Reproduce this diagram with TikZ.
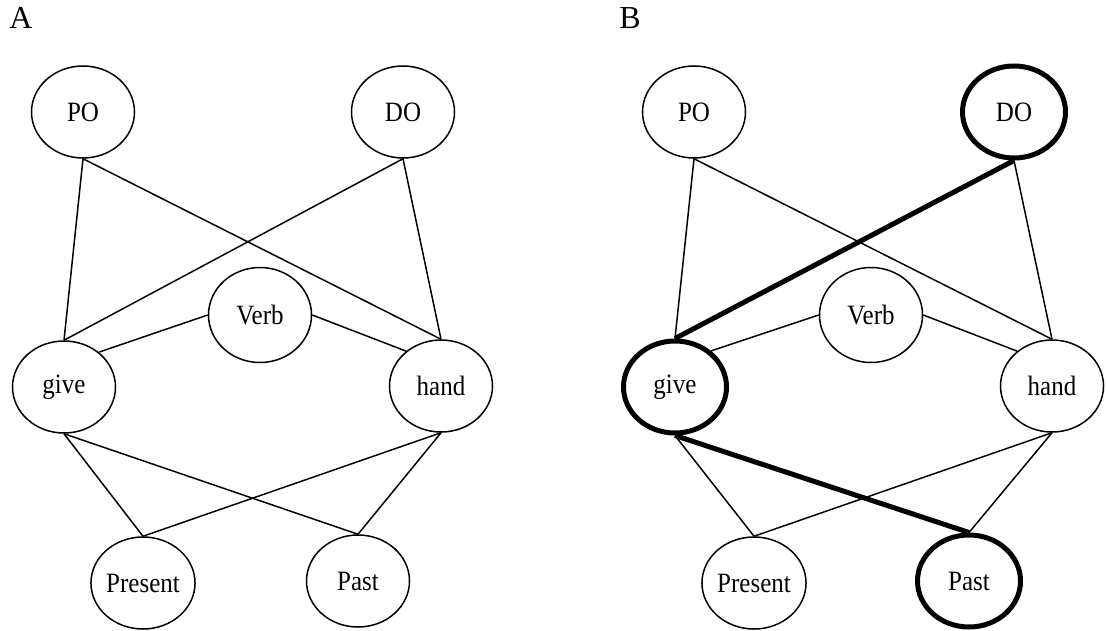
\documentclass[tikz,border=0pt]{standalone}
\usepackage{fontspec}
\setmainfont{Liberation Serif}
\usetikzlibrary{shapes.geometric}
\newcommand{\tx}[1]{\scalebox{1}[1.12]{#1}}
\begin{document}
\begin{tikzpicture}[x=1pt,y=-1pt,
  unit/.style={ellipse,draw,line width=1.5pt,inner sep=0pt,minimum width=103pt,minimum height=92pt,font=\fontsize{25}{30}\selectfont},
  tallunit/.style={unit,minimum height=95pt},
  hot/.style={line width=5pt},
  link/.style={line width=1.5pt},
  hotlink/.style={line width=5pt},
  panel/.style={inner sep=0pt,font=\fontsize{32}{36}\selectfont}]
\useasboundingbox (0,0) rectangle (1107,631);
% Panel A
\node[panel] (labA) at (21,18) {A};
\node[unit] (poA) at (83,112) {\tx{PO}};
\node[unit] (doA) at (403,112) {\tx{DO}};
\node[tallunit] (verbA) at (260,315) {\tx{Verb}};
\node[unit] (giveA) at (64,387) {\tx{give}};
\node[unit] (handA) at (441,386) {\tx{hand}};
\node[unit] (presA) at (143,583) {\tx{Present}};
\node[unit] (pastA) at (358,581) {\tx{Past}};
\draw[link] (poA.south) -- (giveA.north);
\draw[link] (poA.south) -- (handA.north);
\draw[link] (doA.south) -- (giveA.north);
\draw[link] (doA.south) -- (handA.north);
\draw[link] (verbA.west) -- (giveA.45);
\draw[link] (verbA.east) -- (handA.135);
\draw[link] (giveA.south) -- (presA.north);
\draw[link] (giveA.south) -- (pastA.north);
\draw[link] (handA.south) -- (presA.north);
\draw[link] (handA.south) -- (pastA.north);
% Panel B
\begin{scope}[xshift=611pt]
\node[panel] (labB) at (19,18) {B};
\node[unit] (poB) at (83,112) {\tx{PO}};
\node[unit,hot] (doB) at (403,112) {\tx{DO}};
\node[tallunit] (verbB) at (260,315) {\tx{Verb}};
\node[unit,hot] (giveB) at (64,387) {\tx{give}};
\node[unit] (handB) at (441,386) {\tx{hand}};
\node[unit] (presB) at (143,583) {\tx{Present}};
\node[unit,hot] (pastB) at (358,581) {\tx{Past}};
\end{scope}
\draw[link] (poB.south) -- (giveB.north);
\draw[link] (poB.south) -- (handB.north);
\draw[link] (doB.south) -- (handB.north);
\draw[link] (verbB.west) -- (giveB.45);
\draw[link] (verbB.east) -- (handB.135);
\draw[link] (giveB.south) -- (presB.north);
\draw[link] (handB.south) -- (presB.north);
\draw[link] (handB.south) -- (pastB.north);
\draw[hotlink] (doB.south) -- (giveB.north);
\draw[hotlink] (giveB.south) -- (pastB.north);
\end{tikzpicture}
\end{document}
